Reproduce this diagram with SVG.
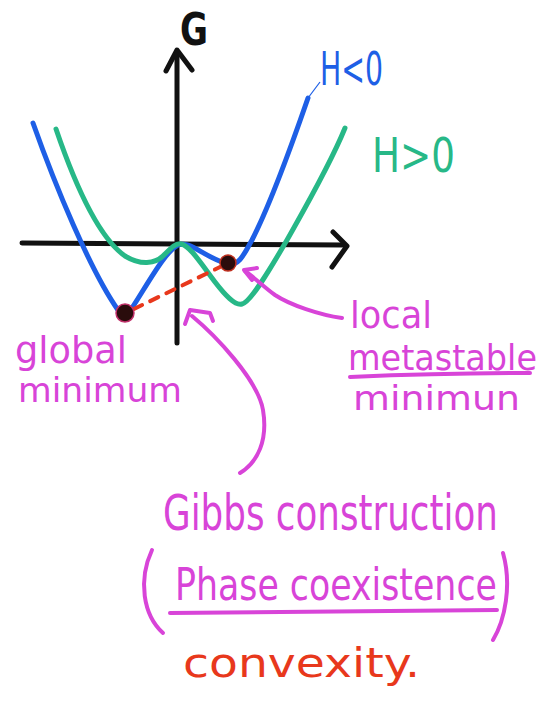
<svg xmlns="http://www.w3.org/2000/svg" width="555" height="708" viewBox="0 0 555 708">
<style>
.ax{fill:none;stroke:#111;stroke-width:5;stroke-linecap:round;stroke-linejoin:round}
.cb{fill:none;stroke:#1e5fe6;stroke-width:5;stroke-linecap:round;stroke-linejoin:round}
.cg{fill:none;stroke:#27b887;stroke-width:5;stroke-linecap:round;stroke-linejoin:round}
.pk{fill:none;stroke:#d844d8;stroke-width:4;stroke-linecap:round;stroke-linejoin:round}
.rd{fill:none;stroke:#e8381c;stroke-width:4;stroke-linecap:round;stroke-dasharray:9 9}
.t{font-family:"DejaVu Sans","Liberation Sans",sans-serif}
.tp{fill:#d844d8}
</style>
<rect width="555" height="708" fill="#fff"/>
<g id="axes">
<path class="ax" d="M22,243 L345,245"/>
<path class="ax" d="M333,232 L347,246 L332,267"/>
<path class="ax" d="M177,343 L177,52"/>
<path class="ax" d="M166,71 L177,50 L192,70"/>
<text class="t" x="180" y="45" font-size="44" font-weight="bold" fill="#111" textLength="28" lengthAdjust="spacingAndGlyphs">G</text>
</g>
<g id="curve-blue">
<path class="cb" d="M33,123 C55,185 90,270 118,310 Q125,318 132,308 C150,280 165,252 178,245 C190,240 205,258 228,264 C240,266 245,252 252,240 C270,205 290,150 308,98"/>
<path d="M308,98 L320,82" stroke="#1e5fe6" stroke-width="1.2" fill="none"/>
<text class="t" x="320" y="85" font-size="46" fill="#1e5fe6" textLength="63" lengthAdjust="spacingAndGlyphs">H&lt;0</text>
</g>
<g id="curve-green">
<path class="cg" d="M56,129 C70,170 95,235 125,256 C140,265 155,265 165,254 C172,247 176,243 181,244 C190,246 200,262 215,282 C225,295 235,306 242,304 C250,302 265,278 287,240 C305,208 330,165 345,128"/>
<text class="t" x="372" y="172" font-size="48" fill="#27b887" textLength="83" lengthAdjust="spacingAndGlyphs">H&gt;0</text>
</g>
<g id="connectors">
<path class="rd" d="M134,309 L220,267"/>
<path class="pk" d="M342,318 C320,315 290,305 275,295 C265,288 255,278 245,271"/>
<path class="pk" d="M257,268 L244,270 L252,280"/>
<path class="pk" d="M240,473 C258,462 268,440 263,410 C258,380 215,335 192,316"/>
<path class="pk" d="M185,324 L190,310 L210,313 L213,321"/>
</g>
<g id="global-min">
<circle cx="125" cy="313" r="9" fill="#2a0c0c" stroke="#c0306a" stroke-width="1.5"/>
<text class="t tp" x="15" y="363" font-size="38" textLength="112" lengthAdjust="spacingAndGlyphs">global</text>
<text class="t tp" x="18" y="402" font-size="34" textLength="164" lengthAdjust="spacingAndGlyphs">minimum</text>
</g>
<g id="local-min">
<circle cx="228" cy="263" r="8" fill="#2a0c0c" stroke="#c03020" stroke-width="1.5"/>
<text class="t tp" x="350" y="328" font-size="38" textLength="82" lengthAdjust="spacingAndGlyphs">local</text>
<text class="t tp" x="348" y="370" font-size="36" textLength="189" lengthAdjust="spacingAndGlyphs">metastable</text>
<path class="pk" d="M350,377 C420,374 480,373 530,373"/>
<text class="t tp" x="353" y="410" font-size="34" textLength="167" lengthAdjust="spacingAndGlyphs">minimun</text>
</g>
<g id="gibbs">
<text class="t tp" transform="translate(163,530) scale(0.714,1)" x="0" y="0" font-size="50" textLength="469" lengthAdjust="spacingAndGlyphs">Gibbs construction</text>
<path class="pk" d="M152,550 C138,580 143,615 163,633"/>
<text class="t tp" transform="translate(175,600) scale(0.789,1)" x="0" y="0" font-size="44" textLength="408" lengthAdjust="spacingAndGlyphs">Phase coexistence</text>
<path class="pk" d="M170,613 L497,610"/>
<path class="pk" d="M503,553 C512,585 505,620 493,640"/>
</g>
<g id="convexity">
<text class="t" x="183" y="677" font-size="40" fill="#e8381c" textLength="237" lengthAdjust="spacingAndGlyphs">convexity.</text>
</g>
</svg>
